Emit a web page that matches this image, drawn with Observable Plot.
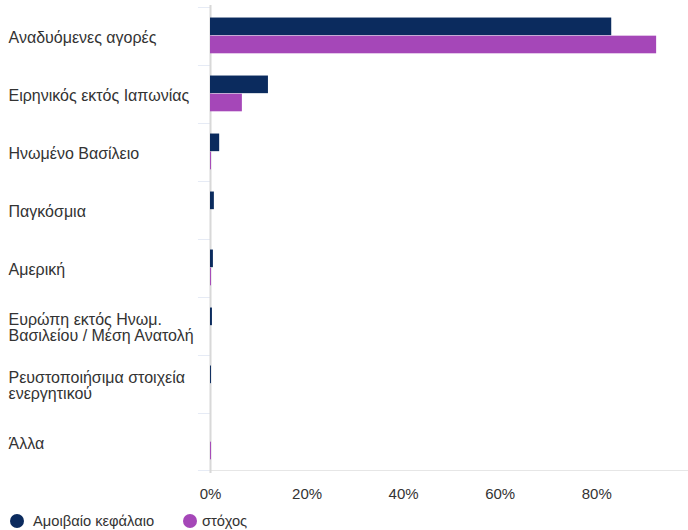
<!DOCTYPE html>
<html>
<head>
<meta charset="utf-8">
<script src="https://cdn.jsdelivr.net/npm/d3@7"></script>
<script src="https://cdn.jsdelivr.net/npm/@observablehq/plot@0.6"></script>
<style>
  body { margin: 0; background: #fff; font-family: "Liberation Sans", Arial, sans-serif; }
  #chart svg { display: block; }
  #legend { position: relative; height: 24px; margin-top: 3px; font-size: 14.7px; color: #333; }
  #legend .sw { position: absolute; top: 5px; width: 14px; height: 14px; border-radius: 50%; }
  #legend .lb { position: absolute; top: 3px; line-height: 18px; white-space: nowrap; }
</style>
</head>
<body>
<div id="chart"></div>
<div id="legend"></div>
<script>
// ---- data ----
const categories = [
  "Αναδυόμενες αγορές",
  "Ειρηνικός εκτός Ιαπωνίας",
  "Ηνωμένο Βασίλειο",
  "Παγκόσμια",
  "Αμερική",
  "Ευρώπη εκτός Ηνωμ. Βασιλείου / Μέση Ανατολή",
  "Ρευστοποιήσιμα στοιχεία ενεργητικού",
  "Άλλα"
];
const categoryLabels = [
  "Αναδυόμενες αγορές",
  "Ειρηνικός εκτός Ιαπωνίας",
  "Ηνωμένο Βασίλειο",
  "Παγκόσμια",
  "Αμερική",
  "Ευρώπη εκτός Ηνωμ.\nΒασιλείου / Μέση Ανατολή",
  "Ρευστοποιήσιμα στοιχεία\nενεργητικού",
  "Άλλα"
];
const fundValues   = [83.1, 12.0, 1.9, 0.8, 0.6, 0.4, 0.2, 0];
const targetValues = [92.4, 6.6, 0.2, 0, 0.2, 0, 0, 0.2];
const seriesNames  = ["Αμοιβαίο κεφάλαιο", "στόχος"];
const xTicks       = [0, 20, 40, 60, 80];
const xMax         = 99;

// ---- styles ----
const seriesColors = ["#0b2b5e", "#a547b8"];
const W = 688, H = 506, mT = 5, mB = 33, mL = 210, mR = 0;
const step = (H - mT - mB) / categories.length;

const fundRows = categories.map((c, i) => ({category: c, value: fundValues[i]}));
const targetRows = categories.map((c, i) => ({category: c, value: targetValues[i]}));
const lastCat = [categories[categories.length - 1]];

const chart = Plot.plot({
  width: W, height: H,
  marginTop: mT, marginBottom: mB, marginLeft: mL, marginRight: mR,
  style: {fontFamily: '"Liberation Sans", Arial, sans-serif', fontSize: "15px", color: "#333", background: "#fff"},
  x: {domain: [0, xMax], ticks: xTicks, tickFormat: d => d + "%", tickSize: 0, tickPadding: 15, label: null},
  y: {domain: categories, padding: 0, axis: null},
  marks: [
    // category boundary tick marks (top edge of each band)
    Plot.barX(categories, {y: d => d, x1: -2.5, x2: 0, fill: "#ccd6eb", insetBottom: step - 1}),
    // bottom boundary tick + bottom axis line
    Plot.barX(lastCat, {y: d => d, x1: -2.5, x2: 0, fill: "#ccd6eb", insetTop: step - 1}),
    Plot.barX(lastCat, {y: d => d, x1: 0, x2: xMax, fill: "#cccccc", insetTop: step - 1}),
    Plot.ruleX([0], {stroke: "#d8d8d8", strokeWidth: 2}),
    Plot.barX(fundRows, {y: "category", x: "value", fill: seriesColors[0], insetTop: step * 0.18, insetBottom: step * 0.51}),
    Plot.barX(targetRows, {y: "category", x: "value", fill: seriesColors[1], insetTop: step * 0.49, insetBottom: step * 0.20}),
    Plot.text(categories, {
      y: d => d, text: (d, i) => categoryLabels[i],
      frameAnchor: "left", dx: -202, dy: 1.5, textAnchor: "start",
      lineHeight: 1.0, fill: "#333", fontSize: 16
    })
  ]
});
document.getElementById("chart").appendChild(chart);

// ---- legend ----
const legend = document.getElementById("legend");
const legendPos = [{sw: 10, lb: 33}, {sw: 183, lb: 202}];
seriesNames.forEach((name, i) => {
  const sw = document.createElement("span");
  sw.className = "sw"; sw.style.left = legendPos[i].sw + "px"; sw.style.background = seriesColors[i];
  const lb = document.createElement("span");
  lb.className = "lb"; lb.style.left = legendPos[i].lb + "px"; lb.textContent = name;
  legend.appendChild(sw); legend.appendChild(lb);
});
</script>
</body>
</html>
